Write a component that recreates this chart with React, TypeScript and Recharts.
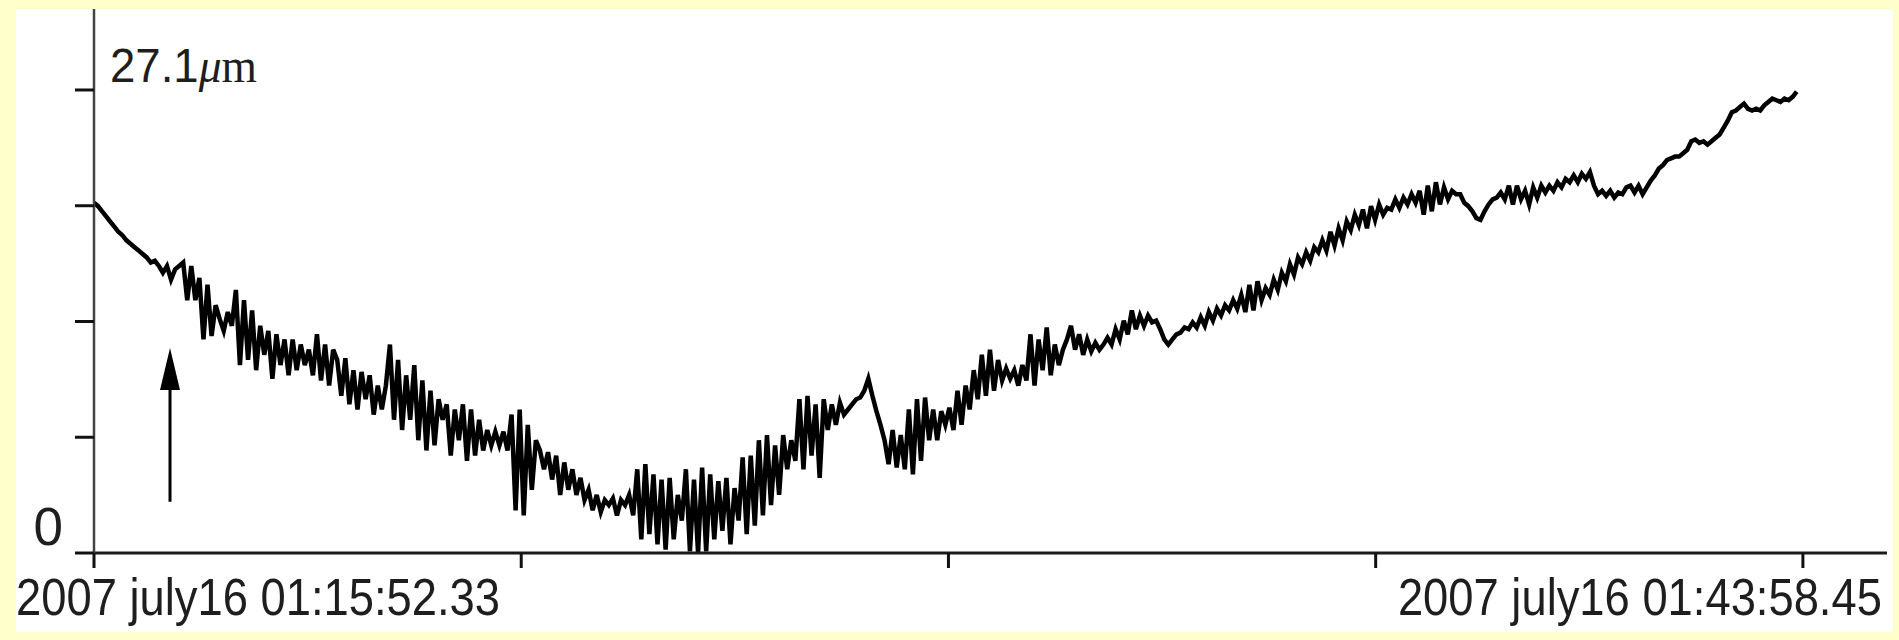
import React from 'react';
import { LineChart, Line, XAxis, YAxis, ReferenceLine, ReferenceDot } from 'recharts';

// Sampling interval of the displacement record (seconds)
const SAMPLE_SECONDS = 4;

// Displacement (μm), one value per sample
const DESCENT_UM = [
  20.5, 20.3, 20.0, 19.7, 19.4, 19.1, 18.8, 18.6, 18.3, 18.1,
  17.9, 17.7, 17.5, 17.3, 17.0, 17.1, 16.8, 16.4, 16.8, 16.0,
  16.6, 16.8, 17.0, 14.8, 16.8, 14.8, 16.1, 12.5, 15.7, 12.7,
  14.5, 13.7, 13.0, 14.1, 13.3, 15.4, 11.0, 14.8, 11.3, 14.2,
  10.7, 13.3, 11.6, 13.0, 10.2, 12.8, 11.0, 12.5, 10.4, 12.5,
  10.7, 12.2, 11.0, 11.9, 10.4, 12.8, 10.1, 12.2, 9.8, 11.9,
  11.3, 9.2, 11.4, 8.7, 10.7, 8.4, 10.6, 9.0, 10.4, 8.1,
  9.8, 8.4, 9.8, 12.2, 7.8, 11.3, 7.2, 10.4, 7.8, 11.0,
  6.6, 10.1, 6.0, 9.5, 6.3, 9.0, 7.8, 8.7, 5.7, 8.4,
  6.6, 8.7, 5.4, 8.4, 5.7, 7.8, 6.0, 7.2, 6.3, 7.1,
  6.3, 7.1, 6.0, 8.1, 2.5, 8.4, 2.2, 7.5, 3.7, 6.6,
];
const TROUGH_UM = [
  6.0, 4.9, 5.9, 4.3, 5.7, 3.4, 5.3, 3.7, 4.9, 3.4,
  4.4, 3.1, 3.7, 2.5, 3.4, 2.4, 3.1, 2.8, 3.2, 2.2,
  3.1, 2.8, 3.4, 2.2, 4.9, 0.8, 5.2, 1.1, 4.6, 0.5,
  4.3, 0.2, 4.4, 0.8, 3.4, 1.9, 4.9, 0.1, 4.3, 0,
  5.0, 0.1, 4.6, 0.8, 4.2, 1.3, 4.4, 0.5, 3.8, 1.9,
  5.6, 1.1, 5.7, 1.6, 6.6, 2.2, 6.9, 2.8, 6.3, 3.4,
  6.9, 4.9, 6.6, 5.4, 9.0, 4.9, 9.2, 5.7, 8.7, 4.4,
];
const RISE_UM = [
  9.0, 7.2, 8.7, 7.5, 8.8, 8.1, 8.4, 8.7, 9.0, 9.1,
  9.5, 10.2, 9.2, 8.3, 7.5, 6.6, 5.2, 7.2, 5.0, 6.9,
  4.9, 8.4, 4.6, 9.0, 5.4, 9.1, 6.6, 8.4, 6.6, 8.3,
  7.5, 8.5, 7.2, 9.5, 7.5, 9.8, 8.4, 10.7, 9.0, 11.6,
  9.2, 11.9, 9.5, 11.3, 10.1, 10.8, 10.2, 10.7, 9.8, 11.0,
  10.1, 12.8, 9.8, 12.5, 10.7, 13.2, 10.4, 12.2, 11.0, 11.9,
  12.5, 13.3, 11.9, 12.8, 11.6, 12.5, 11.8, 12.3, 11.9, 12.2,
  12.6, 12.2, 13.1, 12.5, 13.6, 12.8, 14.2, 13.1, 13.9, 13.3,
  13.9, 13.5, 13.6, 13.1, 12.5, 12.2, 12.5, 12.8, 12.9, 13.2,
  13.1, 13.5, 13.2, 13.8, 13.3, 14.1, 13.6, 14.3, 13.9, 14.5,
  14.2, 14.8, 14.3, 15.1, 14.1, 15.7, 14.2, 15.9, 14.8, 15.5,
  15.1, 16.0, 15.4, 16.4, 15.9, 16.9, 16.3, 17.3, 16.9, 17.6,
];
const UPPER_UM = [
  17.1, 17.9, 17.6, 18.3, 17.7, 18.8, 18.0, 19.0, 18.3, 19.4,
  18.9, 19.8, 19.2, 20.1, 19.0, 20.3, 19.5, 20.4, 19.8, 20.2,
  20.1, 20.7, 20.2, 20.8, 20.4, 21.0, 20.5, 21.2, 19.8, 21.5,
  20.0, 21.7, 20.4, 21.4, 20.7, 21.2, 21.0, 21.0, 20.5, 20.3,
  20.0, 19.6, 19.5, 20.0, 20.4, 20.7, 20.8, 21.1, 20.7, 21.5,
  20.4, 21.5, 20.7, 21.2, 20.4, 21.4, 20.8, 21.5, 21.1, 21.5,
  21.2, 21.7, 21.4, 21.9, 21.7, 22.1, 21.7, 22.2, 21.9, 22.3,
  21.5, 21.0, 21.2, 20.9, 21.2, 20.8, 21.1, 21.0, 21.4, 21.5,
  21.1, 21.5, 21.0, 21.4, 21.8, 22.1, 22.5, 22.7, 23.0, 23.1,
  23.2, 23.2, 23.4, 23.6, 24.1, 24.2, 24.0, 24.1, 23.9, 24.1,
  24.3, 24.5, 24.9, 25.3, 25.8, 25.9, 26.1, 26.3, 26.0, 25.9,
  26.0, 25.9, 26.2, 26.4, 26.6, 26.5, 26.4, 26.6, 26.5, 26.7,
  27.0,
];

// Axes: time in seconds from 01:15:52.33, displacement in μm
const X_TICKS = [0, 421.53, 843.06, 1264.59, 1686.12];
const X_TICK_LABELS = ['2007 july16 01:15:52.33', '', '', '', '2007 july16 01:43:58.45'];
const X_DOMAIN: [number, number] = [0, 1769.1];
const Y_TICKS = [0, 6.775, 13.55, 20.325, 27.1];
const Y_TICK_LABELS = ['0', '', '', '', '27.1'];
const Y_UNIT = 'μm';
const Y_DOMAIN: [number, number] = [0, 31.84];

// Arrow annotation (time s, displacement μm)
const ARROW_T = 75;
const ARROW_FROM = 3.0;
const ARROW_HEAD_BASE = 9.6;
const ARROW_TIP = 12.0;

const SERIES = [...DESCENT_UM, ...TROUGH_UM, ...RISE_UM, ...UPPER_UM];
const data = SERIES.map((v, i) => ({ t: i * SAMPLE_SECONDS, v }));

const FONT = '"Liberation Sans", Arial, sans-serif';
const TEXT_COLOR = '#1e1e1e';

const XTick = (props: any) => {
  const { x, y, payload } = props;
  const idx = X_TICKS.indexOf(payload.value);
  const label = X_TICK_LABELS[idx];
  if (!label) return null;
  const isFirst = idx === 0;
  return (
    <text
      x={isFirst ? x - 78 : x + 79}
      y={y + 47}
      textAnchor={isFirst ? 'start' : 'end'}
      fontFamily={FONT}
      fontSize={52}
      fill={TEXT_COLOR}
      textLength={484}
      lengthAdjust="spacingAndGlyphs"
    >
      {label}
    </text>
  );
};

const YTick = (props: any) => {
  const { x, y, payload } = props;
  const idx = Y_TICKS.indexOf(payload.value);
  const label = Y_TICK_LABELS[idx];
  if (!label) return null;
  if (idx === 0) {
    return (
      <text x={x - 12} y={y - 8} textAnchor="end" fontFamily={FONT} fontSize={53} fill={TEXT_COLOR}>
        {label}
      </text>
    );
  }
  return (
    <text
      x={x + 35}
      y={y - 8}
      textAnchor="start"
      fontFamily={FONT}
      fontSize={48}
      fill={TEXT_COLOR}
      textLength={147}
      lengthAdjust="spacingAndGlyphs"
    >
      <tspan>{label}</tspan>
      <tspan fontFamily='"Liberation Serif", serif' fontStyle="italic">{Y_UNIT[0]}</tspan>
      <tspan fontFamily='"Liberation Serif", serif'>{Y_UNIT.slice(1)}</tspan>
    </text>
  );
};

const ArrowHead = (props: any) => {
  const { cx, cy } = props;
  if (cx == null || cy == null) return null;
  return <polygon points={`${cx},${cy} ${cx - 10},${cy + 42} ${cx + 10},${cy + 42}`} fill="#000" />;
};

export default function App() {
  return (
    <div style={{ position: 'absolute', left: 0, top: 0, width: 1899, height: 640, background: '#FFFFCC' }}>
      <div style={{ position: 'absolute', left: 16, top: 9, width: 1877, height: 623, background: '#FFFFFF' }} />
      <div style={{ position: 'absolute', left: 0, top: 0 }}>
        <LineChart width={1899} height={640} data={data} margin={{ top: 9, right: 12, bottom: 0, left: 0 }}>
          <XAxis
            dataKey="t"
            type="number"
            domain={X_DOMAIN}
            ticks={X_TICKS}
            interval={0}
            height={87}
            tickSize={15}
            tickMargin={0}
            axisLine={{ stroke: '#1a1a1a', strokeWidth: 3 }}
            tickLine={{ stroke: '#111', strokeWidth: 3 }}
            tick={XTick}
            allowDataOverflow
          />
          <YAxis
            type="number"
            domain={Y_DOMAIN}
            ticks={Y_TICKS}
            interval={0}
            width={94}
            tickSize={19}
            tickMargin={0}
            axisLine={{ stroke: '#444', strokeWidth: 2.5 }}
            tickLine={{ stroke: '#111', strokeWidth: 3 }}
            tick={YTick}
            allowDataOverflow
          />
          <ReferenceLine
            segment={[{ x: ARROW_T, y: ARROW_FROM }, { x: ARROW_T, y: ARROW_HEAD_BASE }]}
            stroke="#000"
            strokeWidth={3}
            ifOverflow="visible"
          />
          <ReferenceDot x={ARROW_T} y={ARROW_TIP} ifOverflow="visible" shape={ArrowHead} />
          <Line
            dataKey="v"
            type="linear"
            stroke="#000"
            strokeWidth={4.5}
            dot={false}
            activeDot={false}
            isAnimationActive={false}
          />
        </LineChart>
      </div>
    </div>
  );
}
